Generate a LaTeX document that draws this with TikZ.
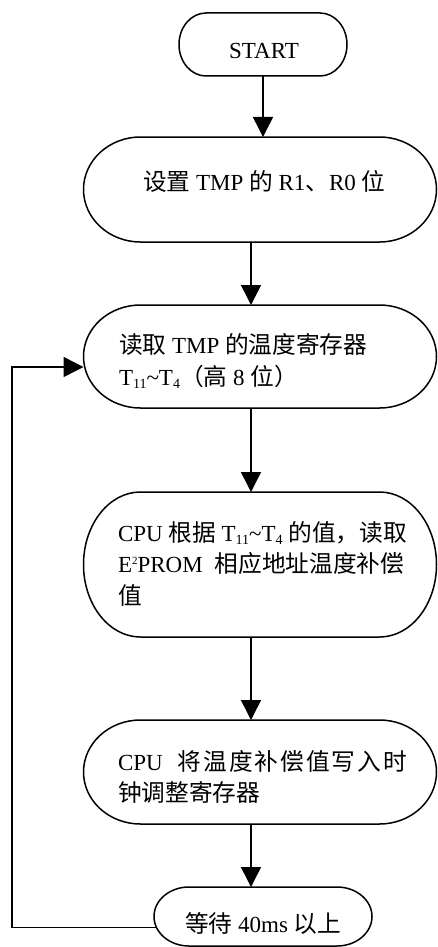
\documentclass[tikz,border=0pt]{standalone}
\usepackage{fontspec}
\setmainfont{Liberation Serif}
\newfontfamily\cjk[Scale=1.03]{Noto Sans CJK SC}
\usetikzlibrary{arrows.meta}
\newcommand\subs[1]{\raisebox{-3pt}{\fontsize{14}{14}\selectfont #1}}
\newcommand\sups[1]{\raisebox{8pt}{\fontsize{11}{11}\selectfont #1}}
% terminator outline drawn inside a named rectangle node: name, x radius, y radius
\newcommand\termshape[3]{%
  \draw ([xshift=#2]#1.north west) -- ([xshift=-#2]#1.north east)
    arc[start angle=90,end angle=-90,x radius=#2,y radius=#3]
    -- ([xshift=#2]#1.south west)
    arc[start angle=270,end angle=90,x radius=#2,y radius=#3] -- cycle;}
\begin{document}
\begin{tikzpicture}[x=1pt,y=1pt,line width=1.5pt,
  box/.style={draw=none,rectangle,inner sep=0pt,outer sep=0pt},
  arr/.style={-{Triangle[length=20pt,width=20pt]}},
  txt/.style={inner sep=0pt,outer sep=0pt,anchor=base west,font=\fontsize{23}{32}\selectfont},
  ctxt/.style={txt,anchor=base}]
\useasboundingbox (0,0) rectangle (438,-947);

% shapes
\node[box,minimum width=168pt,minimum height=63pt]  (start) at (263,-44.5) {};
\node[box,minimum width=353pt,minimum height=105pt] (set)   at (260,-189.5) {};
\node[box,minimum width=353pt,minimum height=103pt] (read)  at (260,-356.5) {};
\node[box,minimum width=353pt,minimum height=145pt] (cpu)   at (260,-564.5) {};
\node[box,minimum width=353pt,minimum height=104pt] (write) at (260,-772) {};
\node[box,minimum width=218pt,minimum height=59pt]  (wait)  at (263,-916.5) {};

\termshape{start}{27pt}{31.5pt}
\termshape{set}{57pt}{52.5pt}
\termshape{read}{57pt}{51.5pt}
\termshape{cpu}{57pt}{72.5pt}
\termshape{write}{57pt}{52pt}
\termshape{wait}{35pt}{29.5pt}

% texts
\node[ctxt] (tstart) at (264,-58.5) {START};
\node[txt] (tset) at (143,-190) {{\cjk 设置} TMP {\cjk 的} R1{\cjk 、}R0 {\cjk 位}};
\node[txt] (tread1) at (119,-353) {{\cjk 读取} TMP {\cjk 的温度寄存器}};
\node[txt] (tread2) at (119,-385) {T\subs{11}\textasciitilde T\subs{4}{\cjk （高} 8 {\cjk 位）}};
\node[txt] (tcpu1) at (118,-541) {CPU {\cjk 根据} T\subs{11}\textasciitilde T\subs{4} {\cjk 的值，读取}};
\node[txt] (tcpu2) at (118,-572.5) {E\sups{2}PROM\hspace{12pt}{\cjk 相应地址温度补偿}};
\node[txt] (tcpu3) at (118,-604) {{\cjk 值}};
\node[txt] (twrite1) at (118,-770) {\hbox to 289pt{CPU\hspace{15pt}{\cjk 将}\hfil{\cjk 温}\hfil{\cjk 度}\hfil{\cjk 补}\hfil{\cjk 偿}\hfil{\cjk 值}\hfil{\cjk 写}\hfil{\cjk 入}\hfil{\cjk 时}}};
\node[txt] (twrite2) at (118,-801.5) {{\cjk 钟调整寄存器}};
\node[txt] (twait) at (185,-932) {{\cjk 等待} 40ms {\cjk 以上}};

% connectors
\coordinate (spine) at (251,0);
\coordinate (fbx) at (12,0);
\draw[arr] (start.south) -- (start.south |- set.north);
\draw[arr] (set.south -| spine) -- (read.north -| spine);
\draw[arr] (read.south -| spine) -- (cpu.north -| spine);
\draw[arr] (cpu.south -| spine) -- (write.north -| spine);
\draw[arr] (write.south -| spine) -- (wait.north -| spine);
\coordinate (fbs) at ([shift={(2.5pt,-11pt)}]wait.west);
\coordinate (fbe) at ([yshift=-10.5pt]read.west);
\draw[arr] (fbs) -- (fbs -| fbx) -- (fbe -| fbx) -- (fbe);
\end{tikzpicture}
\end{document}
